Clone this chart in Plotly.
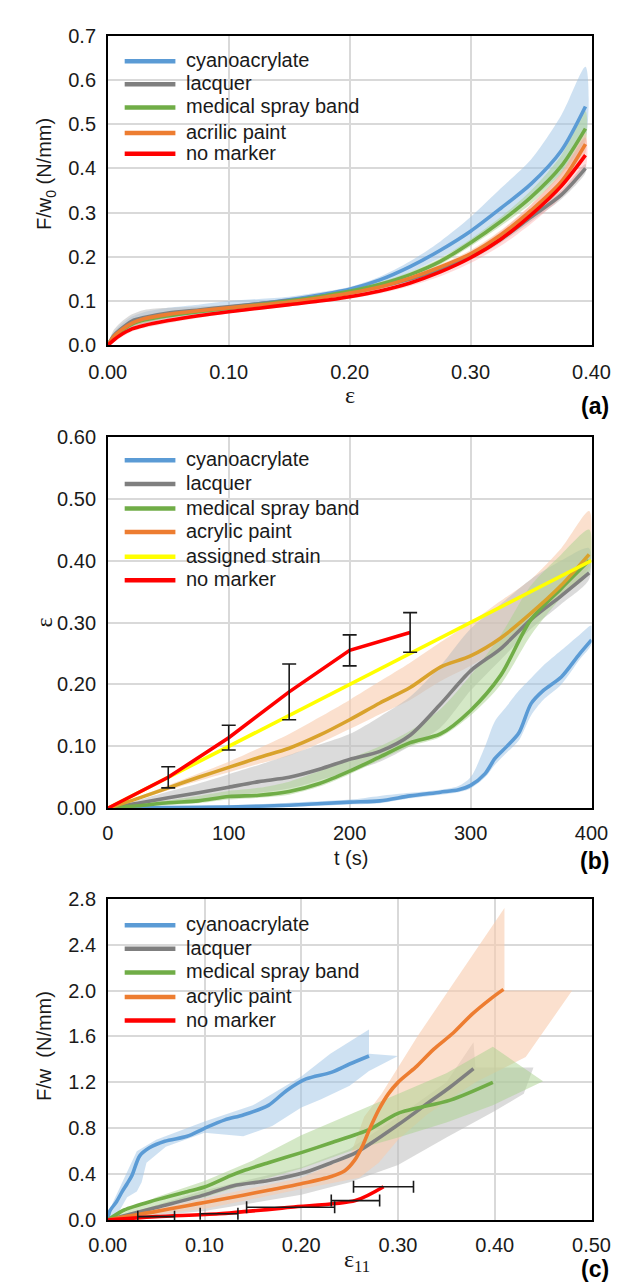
import plotly.graph_objects as go

FONT = "Liberation Sans, Arial, sans-serif"
SERIF = "Liberation Serif, Times New Roman, serif"
W, H = 626, 1287

C_BLUE, C_GRAY, C_GREEN, C_ORANGE, C_RED, C_YELLOW = "#5B9BD5", "#7F7F7F", "#70AD47", "#ED7D31", "#FF0000", "#FFFF00"
C_GOLD = "#D9A22C"
F_BLUE, F_GRAY, F_GREEN, F_ORANGE, F_RED = ("rgba(157,195,230,0.5)", "rgba(190,190,190,0.55)",
                                            "rgba(169,209,142,0.5)", "rgba(248,203,173,0.6)",
                                            "rgba(255,140,140,0.3)")

# ---------------- Panel (a): F/w0 vs strain ----------------
names_a = ["cyanoacrylate", "lacquer", "medical spray band", "acrilic paint", "no marker"]
strain_a = [0, 0.005, 0.01, 0.02, 0.03, 0.05, 0.075, 0.10, 0.125, 0.15, 0.175, 0.20, 0.225, 0.25, 0.275, 0.30, 0.325, 0.35, 0.375, 0.395]
a_cyano = [0, 0.02, 0.032, 0.05, 0.06, 0.07, 0.078, 0.086, 0.094, 0.103, 0.114, 0.127, 0.148, 0.178, 0.215, 0.258, 0.31, 0.365, 0.44, 0.54]
a_cyano_hi = [0.005, 0.03, 0.045, 0.065, 0.075, 0.085, 0.092, 0.1, 0.105, 0.11, 0.12, 0.132, 0.155, 0.19, 0.235, 0.29, 0.355, 0.42, 0.52, 0.63]
a_cyano_lo = [0, 0.012, 0.022, 0.04, 0.048, 0.06, 0.068, 0.076, 0.085, 0.095, 0.106, 0.118, 0.138, 0.165, 0.198, 0.235, 0.28, 0.33, 0.39, 0.47]
a_lacq = [0, 0.022, 0.035, 0.055, 0.063, 0.073, 0.08, 0.087, 0.094, 0.101, 0.11, 0.12, 0.133, 0.15, 0.172, 0.2, 0.24, 0.29, 0.34, 0.40]
a_lacq_hi = [0.005, 0.035, 0.05, 0.07, 0.08, 0.085, 0.088, 0.092, 0.098, 0.104, 0.113, 0.123, 0.137, 0.155, 0.178, 0.207, 0.248, 0.3, 0.35, 0.41]
a_lacq_lo = [0, 0.012, 0.022, 0.042, 0.05, 0.062, 0.072, 0.08, 0.088, 0.096, 0.105, 0.115, 0.128, 0.145, 0.166, 0.193, 0.232, 0.28, 0.33, 0.39]
a_spray = [0, 0.018, 0.03, 0.048, 0.057, 0.067, 0.076, 0.084, 0.092, 0.1, 0.11, 0.122, 0.138, 0.16, 0.19, 0.232, 0.28, 0.335, 0.405, 0.49]
a_spray_hi = [0.003, 0.025, 0.038, 0.055, 0.063, 0.072, 0.08, 0.088, 0.096, 0.104, 0.114, 0.127, 0.143, 0.166, 0.197, 0.24, 0.29, 0.35, 0.43, 0.53]
a_spray_lo = [0, 0.012, 0.022, 0.042, 0.05, 0.062, 0.072, 0.08, 0.088, 0.096, 0.106, 0.117, 0.133, 0.154, 0.183, 0.224, 0.27, 0.32, 0.385, 0.46]
a_paint = [0, 0.02, 0.032, 0.05, 0.06, 0.07, 0.078, 0.085, 0.091, 0.098, 0.107, 0.118, 0.132, 0.152, 0.177, 0.207, 0.25, 0.305, 0.37, 0.455]
a_paint_hi = [0.003, 0.028, 0.04, 0.058, 0.066, 0.075, 0.082, 0.088, 0.094, 0.101, 0.11, 0.121, 0.136, 0.157, 0.183, 0.215, 0.26, 0.318, 0.39, 0.48]
a_paint_lo = [0, 0.014, 0.025, 0.043, 0.053, 0.065, 0.074, 0.082, 0.088, 0.095, 0.104, 0.115, 0.128, 0.147, 0.171, 0.2, 0.24, 0.292, 0.355, 0.435]
a_none = [0, 0.012, 0.022, 0.037, 0.045, 0.056, 0.067, 0.076, 0.084, 0.092, 0.1, 0.11, 0.123, 0.141, 0.166, 0.198, 0.24, 0.295, 0.36, 0.43]
a_none_hi = [0.003, 0.018, 0.028, 0.044, 0.052, 0.062, 0.072, 0.08, 0.088, 0.096, 0.105, 0.115, 0.13, 0.15, 0.178, 0.212, 0.258, 0.318, 0.39, 0.47]
a_none_lo = [0, 0.007, 0.016, 0.031, 0.039, 0.05, 0.062, 0.072, 0.08, 0.088, 0.096, 0.105, 0.117, 0.134, 0.156, 0.186, 0.225, 0.275, 0.335, 0.4]

# ---------------- Panel (b): strain vs time ----------------
names_b = ["cyanoacrylate", "lacquer", "medical spray band", "acrylic paint", "assigned strain", "no marker"]
t_b = [0, 25, 50, 75, 100, 125, 150, 175, 200, 225, 250, 275, 300, 325, 350, 375, 398]
b_lacq = [0, 0.008, 0.017, 0.025, 0.034, 0.043, 0.05, 0.063, 0.079, 0.092, 0.118, 0.168, 0.222, 0.258, 0.305, 0.343, 0.38]
b_lacq_hi = [0, 0.013, 0.027, 0.04, 0.055, 0.07, 0.086, 0.103, 0.12, 0.148, 0.18, 0.23, 0.29, 0.33, 0.37, 0.40, 0.42]
b_lacq_lo = [0, 0.003, 0.008, 0.013, 0.02, 0.025, 0.032, 0.045, 0.06, 0.075, 0.1, 0.13, 0.19, 0.24, 0.29, 0.33, 0.37]
b_spray = [0, 0.004, 0.009, 0.012, 0.019, 0.021, 0.027, 0.04, 0.06, 0.083, 0.106, 0.12, 0.158, 0.215, 0.305, 0.355, 0.40]
b_spray_hi = [0, 0.007, 0.013, 0.02, 0.028, 0.033, 0.043, 0.06, 0.08, 0.1, 0.125, 0.16, 0.215, 0.28, 0.36, 0.41, 0.45]
b_spray_lo = [0, 0.002, 0.005, 0.008, 0.014, 0.017, 0.022, 0.035, 0.055, 0.078, 0.1, 0.115, 0.15, 0.2, 0.28, 0.34, 0.38]
b_paint = [0, 0.016, 0.033, 0.05, 0.066, 0.082, 0.097, 0.118, 0.143, 0.17, 0.195, 0.228, 0.246, 0.275, 0.315, 0.36, 0.41]
b_paint_hi = [0, 0.018, 0.037, 0.056, 0.075, 0.097, 0.12, 0.147, 0.175, 0.205, 0.235, 0.268, 0.30, 0.335, 0.37, 0.42, 0.48]
b_paint_lo = [0, 0.014, 0.029, 0.044, 0.058, 0.072, 0.085, 0.105, 0.128, 0.152, 0.175, 0.205, 0.23, 0.26, 0.3, 0.345, 0.39]
t_b_cyano = [0, 50, 100, 150, 200, 225, 250, 275, 290, 300, 312, 320, 330, 340, 350, 360, 375, 390, 400]
b_cyano = [0, 0.001, 0.002, 0.005, 0.01, 0.012, 0.02, 0.026, 0.03, 0.037, 0.056, 0.08, 0.1, 0.122, 0.169, 0.19, 0.212, 0.249, 0.272]
b_cyano_hi = [0, 0.003, 0.005, 0.009, 0.014, 0.02, 0.025, 0.03, 0.036, 0.05, 0.1, 0.14, 0.165, 0.19, 0.21, 0.23, 0.255, 0.28, 0.295]
b_cyano_lo = [0, 0, 0, 0.002, 0.006, 0.008, 0.016, 0.022, 0.026, 0.032, 0.05, 0.07, 0.09, 0.11, 0.15, 0.175, 0.2, 0.24, 0.265]
t_b_assigned = [0, 400]
b_assigned = [0, 0.40]
t_b_none = [0, 50, 100, 150, 200, 250]
b_none = [0, 0.05, 0.114, 0.188, 0.255, 0.284]
t_b_err = [50, 100, 150, 200, 250]
b_none_err_val = [0.05, 0.114, 0.188, 0.255, 0.284]
b_none_err = [0.017, 0.02, 0.045, 0.025, 0.032]

# ---------------- Panel (c): F/w vs eps11 ----------------
names_c = ["cyanoacrylate", "lacquer", "medical spray band", "acrylic paint", "no marker"]
c_cyano_x = [0, 0.002, 0.009, 0.015, 0.02, 0.025, 0.033, 0.043, 0.059, 0.082, 0.1, 0.121, 0.14, 0.166, 0.185, 0.205, 0.231, 0.25, 0.27]
c_cyano_y = [0, 0.077, 0.16, 0.25, 0.317, 0.39, 0.56, 0.63, 0.687, 0.73, 0.80, 0.873, 0.916, 1.0, 1.13, 1.23, 1.287, 1.36, 1.43]
c_cyano_band_x = [0, 0.005, 0.015, 0.03, 0.05, 0.1, 0.15, 0.2, 0.23, 0.27, 0.27, 0.30, 0.27, 0.25, 0.22, 0.2, 0.17, 0.14, 0.1, 0.06, 0.04, 0.035, 0.03, 0.02, 0.01, 0]
c_cyano_band_y = [0, 0.15, 0.33, 0.6, 0.7, 0.86, 1.0, 1.25, 1.45, 1.66, 1.45, 1.43, 1.3, 1.17, 1.05, 0.98, 0.82, 0.73, 0.76, 0.64, 0.5, 0.33, 0.25, 0.2, 0.05, 0]
c_lacq_x = [0, 0.05, 0.1, 0.13, 0.166, 0.205, 0.231, 0.257, 0.3, 0.331, 0.354, 0.378]
c_lacq_y = [0, 0.11, 0.22, 0.30, 0.345, 0.42, 0.50, 0.59, 0.83, 1.02, 1.16, 1.32]
c_lacq_band_x = [0, 0.1, 0.2, 0.25, 0.3, 0.35, 0.378, 0.38, 0.44, 0.43, 0.40, 0.35, 0.30, 0.25, 0.2, 0.1, 0]
c_lacq_band_y = [0, 0.26, 0.46, 0.62, 0.9, 1.2, 1.55, 1.33, 1.33, 1.1, 0.95, 0.72, 0.48, 0.33, 0.22, 0.08, 0]
c_spray_x = [0, 0.017, 0.049, 0.082, 0.1, 0.127, 0.14, 0.166, 0.2, 0.231, 0.27, 0.3, 0.354, 0.398]
c_spray_y = [0, 0.088, 0.174, 0.248, 0.288, 0.388, 0.43, 0.50, 0.588, 0.674, 0.788, 0.93, 1.045, 1.20]
c_spray_band_x = [0, 0.05, 0.1, 0.15, 0.2, 0.25, 0.3, 0.35, 0.398, 0.45, 0.398, 0.35, 0.3, 0.25, 0.2, 0.15, 0.1, 0.05, 0]
c_spray_band_y = [0, 0.2, 0.34, 0.52, 0.74, 0.92, 1.1, 1.28, 1.51, 1.21, 1.0, 0.85, 0.72, 0.6, 0.45, 0.33, 0.2, 0.12, 0]
c_paint_x = [0, 0.017, 0.049, 0.082, 0.1, 0.14, 0.166, 0.2, 0.231, 0.245, 0.255, 0.263, 0.27, 0.28, 0.29, 0.3, 0.318, 0.337, 0.357, 0.376, 0.396, 0.409]
c_paint_y = [0, 0.03, 0.074, 0.126, 0.154, 0.217, 0.26, 0.317, 0.38, 0.43, 0.52, 0.64, 0.78, 0.96, 1.1, 1.2, 1.33, 1.49, 1.63, 1.79, 1.93, 2.01]
c_paint_band_x = [0, 0.1, 0.2, 0.25, 0.265, 0.283, 0.32, 0.36, 0.41, 0.41, 0.48, 0.432, 0.38, 0.33, 0.3, 0.28, 0.26, 0.2, 0.1, 0]
c_paint_band_y = [0, 0.19, 0.37, 0.55, 0.9, 1.1, 1.6, 2.1, 2.72, 2.0, 2.0, 1.42, 1.2, 0.92, 0.7, 0.5, 0.37, 0.27, 0.1, 0]
c_none_x = [0, 0.05, 0.115, 0.189, 0.256, 0.285]
c_none_y = [0, 0.03, 0.055, 0.112, 0.17, 0.29]
c_none_err_x = [0.05, 0.115, 0.189, 0.256, 0.285]
c_none_err_y = [0.03, 0.055, 0.112, 0.17, 0.29]
c_none_err = [0.019, 0.0195, 0.0455, 0.025, 0.031]

fig = go.Figure()


def poly(x, y, color, xa, ya, shape="linear"):
    fig.add_trace(go.Scatter(x=x, y=y, fill="toself", fillcolor=color, mode="lines",
                             line=dict(width=0, color=color, shape=shape, smoothing=0.8), hoverinfo="skip",
                             showlegend=False, xaxis=xa, yaxis=ya))


def band(x, lo, hi, color, xa, ya):
    poly(list(x) + list(x)[::-1], list(hi) + list(lo)[::-1], color, xa, ya, shape="spline")


def line(x, y, color, name, xa, ya, width=3.6, shape="spline"):
    fig.add_trace(go.Scatter(x=x, y=y, mode="lines", name=name,
                             line=dict(color=color, width=width, shape=shape, smoothing=0.8),
                             showlegend=False, xaxis=xa, yaxis=ya))


# Panel (a)
band(strain_a, a_cyano_lo, a_cyano_hi, F_BLUE, "x", "y")
band(strain_a, a_lacq_lo, a_lacq_hi, F_GRAY, "x", "y")
band(strain_a, a_spray_lo, a_spray_hi, F_GREEN, "x", "y")
band(strain_a, a_paint_lo, a_paint_hi, F_ORANGE, "x", "y")
band(strain_a, a_none_lo, a_none_hi, F_RED, "x", "y")
line(strain_a, a_cyano, C_BLUE, names_a[0], "x", "y")
line(strain_a, a_lacq, C_GRAY, names_a[1], "x", "y")
line(strain_a, a_spray, C_GREEN, names_a[2], "x", "y")
line(strain_a, a_paint, C_ORANGE, names_a[3], "x", "y")
line(strain_a, a_none, C_RED, names_a[4], "x", "y")

# Panel (b)
band(t_b_cyano, b_cyano_lo, b_cyano_hi, F_BLUE, "x2", "y2")
band(t_b, b_paint_lo, b_paint_hi, F_ORANGE, "x2", "y2")
band(t_b, b_lacq_lo, b_lacq_hi, F_GRAY, "x2", "y2")
band(t_b, b_spray_lo, b_spray_hi, F_GREEN, "x2", "y2")
line(t_b_cyano, b_cyano, C_BLUE, names_b[0], "x2", "y2")
line(t_b, b_lacq, C_GRAY, names_b[1], "x2", "y2")
line(t_b, b_spray, C_GREEN, names_b[2], "x2", "y2")
line(t_b, b_paint, C_GOLD, names_b[3], "x2", "y2")
line(t_b_assigned, b_assigned, C_YELLOW, names_b[4], "x2", "y2", shape="linear")
line(t_b_none, b_none, C_RED, names_b[5], "x2", "y2", shape="linear")
fig.add_trace(go.Scatter(x=t_b_err, y=b_none_err_val, mode="markers", marker=dict(size=1, color="rgba(0,0,0,0)"),
                         error_y=dict(type="data", array=b_none_err, color="#1a1a1a", thickness=1.6, width=7),
                         showlegend=False, hoverinfo="skip", xaxis="x2", yaxis="y2"))

# Panel (c)
poly(c_cyano_band_x, c_cyano_band_y, F_BLUE, "x3", "y3")
poly(c_lacq_band_x, c_lacq_band_y, F_GRAY, "x3", "y3")
poly(c_paint_band_x, c_paint_band_y, F_ORANGE, "x3", "y3")
poly(c_spray_band_x, c_spray_band_y, F_GREEN, "x3", "y3")
line(c_cyano_x, c_cyano_y, C_BLUE, names_c[0], "x3", "y3")
line(c_lacq_x, c_lacq_y, C_GRAY, names_c[1], "x3", "y3")
line(c_spray_x, c_spray_y, C_GREEN, names_c[2], "x3", "y3")
line(c_paint_x, c_paint_y, C_ORANGE, names_c[3], "x3", "y3")
line(c_none_x, c_none_y, C_RED, names_c[4], "x3", "y3")
fig.add_trace(go.Scatter(x=c_none_err_x, y=c_none_err_y, mode="markers", marker=dict(size=1, color="rgba(0,0,0,0)"),
                         error_x=dict(type="data", array=c_none_err, color="#1a1a1a", thickness=1.6, width=6),
                         showlegend=False, hoverinfo="skip", xaxis="x3", yaxis="y3"))

XDOM = [86 / W, 601 / W]


def ydom(top, bottom):
    return [1 - bottom / H, 1 - top / H]


axcommon = dict(showgrid=True, gridcolor="#D9D9D9", gridwidth=1.5, showline=True, linecolor="black",
                linewidth=1.5, mirror=True, zeroline=False, ticks="",
                tickfont=dict(family=FONT, size=20, color="#1a1a1a"), fixedrange=True)

fig.update_layout(
    width=W, height=H, margin=dict(l=0, r=0, t=0, b=0),
    paper_bgcolor="white", plot_bgcolor="white", showlegend=False,
    xaxis=dict(axcommon, domain=XDOM, anchor="y", range=[0, 0.4], dtick=0.1, tickformat=".2f", ticklabelstandoff=8),
    yaxis=dict(axcommon, domain=ydom(17, 332), anchor="x", range=[0, 0.7], dtick=0.1, tickformat=".1f", ticklabelstandoff=6),
    xaxis2=dict(axcommon, domain=XDOM, anchor="y2", range=[0, 400], dtick=100, ticklabelstandoff=6),
    yaxis2=dict(axcommon, domain=ydom(425, 803), anchor="x2", range=[0, 0.6], dtick=0.1, tickformat=".2f", ticklabelstandoff=6),
    xaxis3=dict(axcommon, domain=XDOM, anchor="y3", range=[0, 0.5], dtick=0.1, tickformat=".2f", ticklabelstandoff=6),
    yaxis3=dict(axcommon, domain=ydom(895, 1222), anchor="x3", range=[0, 2.8], dtick=0.4, tickformat=".1f", ticklabelstandoff=6),
)

ann = []


def text(px, py, s, size=20, family=FONT, xanchor="center", angle=0):
    ann.append(dict(x=px / W, y=1 - py / H, xref="paper", yref="paper", text=s,
                    showarrow=False, xanchor=xanchor, yanchor="middle", textangle=angle,
                    font=dict(family=family, size=size, color="#1a1a1a")))


# axis titles
text(20, 158, "F/w<sub>0</sub> (N/mm)", angle=-90)
text(344, 383, "ε", size=24, family=SERIF)
text(18, 614, "ε", size=24, family=SERIF, angle=-90)
text(345, 854, "t (s)")
text(18, 1045, "F/w\u00a0\u00a0(N/mm)", angle=-90)
text(351, 1264, "ε<sub>11</sub>", size=24, family=SERIF)
# panel labels
for lab, py in (("(a)", 394), ("(b)", 857), ("(c)", 1272)):
    ann.append(dict(x=622 / W, y=1 - py / H, xref="paper", yref="paper", text="<b>%s</b>" % lab, showarrow=False,
                    xanchor="right", yanchor="middle", font=dict(family=FONT, size=23, color="black")))

# legends (drawn as key lines + labels)
shapes = []


def legend(rows, names, colors):
    for py, nm, col in zip(rows, names, colors):
        shapes.append(dict(type="line", xref="paper", yref="paper", x0=104 / W, x1=158 / W,
                           y0=1 - py / H, y1=1 - py / H, line=dict(color=col, width=4.5)))
        ann.append(dict(x=167 / W, y=1 - (py - 1) / H, xref="paper", yref="paper", text=nm, showarrow=False,
                        xanchor="left", yanchor="middle", font=dict(family=FONT, size=20, color="#1a1a1a")))


legend([43, 66.5, 90, 116, 137], names_a, [C_BLUE, C_GRAY, C_GREEN, C_ORANGE, C_RED])
legend([449, 473, 498, 522, 547, 571], names_b, [C_BLUE, C_GRAY, C_GREEN, C_ORANGE, C_YELLOW, C_RED])
legend([922, 946, 970, 995, 1019], names_c, [C_BLUE, C_GRAY, C_GREEN, C_ORANGE, C_RED])

fig.update_layout(annotations=ann, shapes=shapes)
fig.write_html("out.html")
